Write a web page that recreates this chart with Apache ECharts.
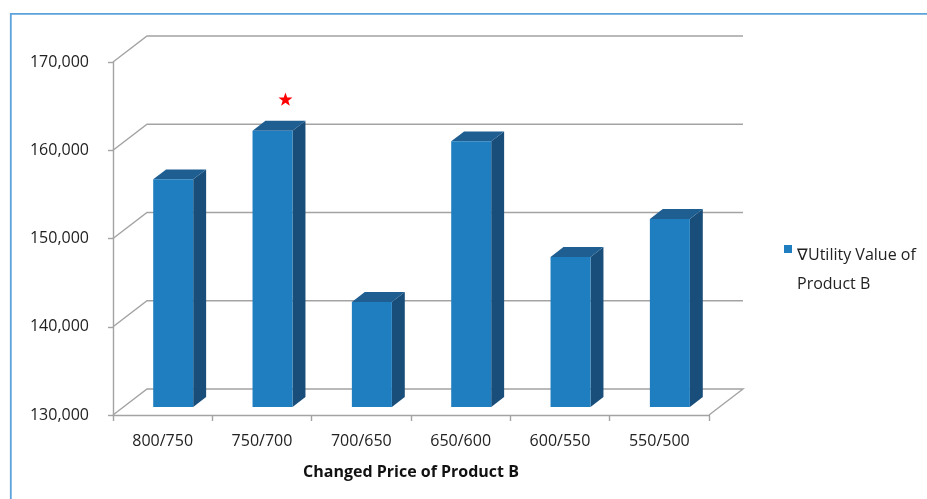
<!DOCTYPE html>
<html>
<head>
<meta charset="utf-8">
<script src="https://cdn.jsdelivr.net/npm/echarts@6/dist/echarts.min.js"></script>
<style>
  html, body { margin: 0; padding: 0; background: #ffffff; }
  #chart { width: 927px; height: 499px; }
</style>
</head>
<body>
<div id="chart"></div>
<script>
// Price change steps for product B and the resulting utility values
const categories = ['800/750', '750/700', '700/650', '650/600', '600/550', '550/500'];
const utilityValues = [155800, 161300, 141900, 160100, 147000, 151300];
const yTicks = [130000, 140000, 150000, 160000, 170000];
const seriesName = '\u2207Utility Value of Product B';
const xAxisTitle = 'Changed Price of Product B';

const yMin = yTicks[0];
const yMax = yTicks[yTicks.length - 1];
const yStep = yTicks[1] - yTicks[0];

// Pseudo-3D geometry: wall depth offset and bar placement within that depth
const DEPTH_X = 34, DEPTH_Y = -26;
const BAR_FRONT = 0.31, BAR_BACK = 0.69;
const BAR_WIDTH = 40;

const FONT = "'Open Sans', 'Noto Sans', sans-serif";
const GRID_COLOR = '#A3A3A3';
const FRONT_COLOR = '#1E7EC0';
const TOP_COLOR = '#1F5E91';
const SIDE_COLOR = '#1A4E7A';

const maxValue = Math.max.apply(null, utilityValues);

// Back wall gridlines with the slanted side-wall connectors, plus the floor outline
function renderWall(params, api) {
  const cs = params.coordSys;
  const v = api.value(1);
  const y = api.coord([0, v])[1];
  const x0 = cs.x, x1 = cs.x + cs.width;
  const pts = [[x0, y], [x0 + DEPTH_X, y + DEPTH_Y], [x1 + DEPTH_X, y + DEPTH_Y]];
  if (v === yMin) pts.push([x1, y]);
  return {
    type: 'polyline',
    shape: { points: pts },
    style: { stroke: GRID_COLOR, lineWidth: 1.4, fill: null }
  };
}

// Box-shaped column: front face, top face and right side face
function renderBar(params, api) {
  const idx = api.value(0);
  const val = api.value(1);
  const base = api.coord([idx, yMin]);
  const top = api.coord([idx, val]);
  const cx = base[0];
  const fx = DEPTH_X * BAR_FRONT, fy = DEPTH_Y * BAR_FRONT;
  const bx = DEPTH_X * BAR_BACK, by = DEPTH_Y * BAR_BACK;
  const l = cx - BAR_WIDTH / 2, r = cx + BAR_WIDTH / 2;
  const yb = base[1], yt = top[1];
  const children = [
    {
      type: 'polygon',
      shape: { points: [[r + fx, yt + fy], [r + bx, yt + by], [r + bx, yb + by], [r + fx, yb + fy]] },
      style: { fill: SIDE_COLOR }
    },
    {
      type: 'polygon',
      shape: { points: [[l + fx, yt + fy], [l + bx, yt + by], [r + bx, yt + by], [r + fx, yt + fy]] },
      style: { fill: TOP_COLOR }
    },
    {
      type: 'rect',
      shape: { x: l + fx, y: yt + fy, width: BAR_WIDTH, height: yb - yt },
      style: { fill: FRONT_COLOR }
    }
  ];
  if (val === maxValue) {
    // red star marking the highest column
    const sx = cx + bx, sy = yt + by - 21;
    const R = 7.4, rIn = R * 0.4;
    const pts = [];
    for (let k = 0; k < 10; k++) {
      const ang = -Math.PI / 2 + k * Math.PI / 5;
      const rad = k % 2 === 0 ? R : rIn;
      pts.push([sx + rad * Math.cos(ang), sy + rad * Math.sin(ang)]);
    }
    children.push({ type: 'polygon', shape: { points: pts }, style: { fill: '#FF0000' } });
  }
  return { type: 'group', children: children };
}

const chart = echarts.init(document.getElementById('chart'), null, { renderer: 'canvas' });

chart.setOption({
  animation: false,
  backgroundColor: '#ffffff',
  graphic: [{
    type: 'rect',
    shape: { x: 10.8, y: 13.8, width: 940, height: 520 },
    style: { fill: null, stroke: '#5EA2DA', lineWidth: 1.8 },
    silent: true
  }],
  grid: { left: 113, top: 62, width: 596, height: 353 },
  legend: {
    data: [seriesName],
    left: 784,
    top: 212,
    padding: 0,
    icon: 'rect',
    itemWidth: 8,
    itemHeight: 8,
    formatter: function (name) {
      const parts = name.split(' of ');
      return '{s| }\n{t|' + parts[0] + ' of}\n{t|' + parts[1] + '}';
    },
    textStyle: {
      fontFamily: FONT,
      fontSize: 16,
      color: '#222222',
      rich: {
        s: { lineHeight: 41, fontSize: 16, fontFamily: FONT },
        t: { lineHeight: 29, fontSize: 16, fontFamily: FONT, color: '#222222' }
      }
    }
  },
  xAxis: {
    type: 'category',
    data: categories,
    boundaryGap: true,
    name: xAxisTitle,
    nameLocation: 'middle',
    nameGap: 49,
    nameTextStyle: { fontFamily: FONT, fontSize: 16, fontWeight: 'bold', color: '#111111' },
    axisLine: { show: true, lineStyle: { color: GRID_COLOR, width: 1.4 } },
    axisTick: { show: true, length: 6, lineStyle: { color: GRID_COLOR, width: 1.4 } },
    axisLabel: { fontFamily: FONT, fontSize: 16, color: '#222222', margin: 18 },
    splitLine: { show: false }
  },
  yAxis: {
    type: 'value',
    min: yMin,
    max: yMax,
    interval: yStep,
    axisLine: { show: true, lineStyle: { color: GRID_COLOR, width: 1.4 } },
    axisTick: { show: true, length: 5, lineStyle: { color: GRID_COLOR, width: 1.4 } },
    axisLabel: {
      fontFamily: FONT, fontSize: 16, color: '#222222', margin: 24,
      padding: [5, 0, 0, 0],
      formatter: function (v) { return v.toLocaleString('en-US'); }
    },
    splitLine: { show: false }
  },
  series: [
    {
      name: 'walls',
      type: 'custom',
      renderItem: renderWall,
      data: yTicks.map(function (v) { return [0, v]; }),
      encode: { x: 0, y: 1 },
      silent: true,
      z: 1
    },
    {
      name: seriesName,
      type: 'custom',
      renderItem: renderBar,
      data: utilityValues.map(function (v, i) { return [i, v]; }),
      encode: { x: 0, y: 1 },
      itemStyle: { color: FRONT_COLOR },
      z: 2
    }
  ]
});
</script>
</body>
</html>
